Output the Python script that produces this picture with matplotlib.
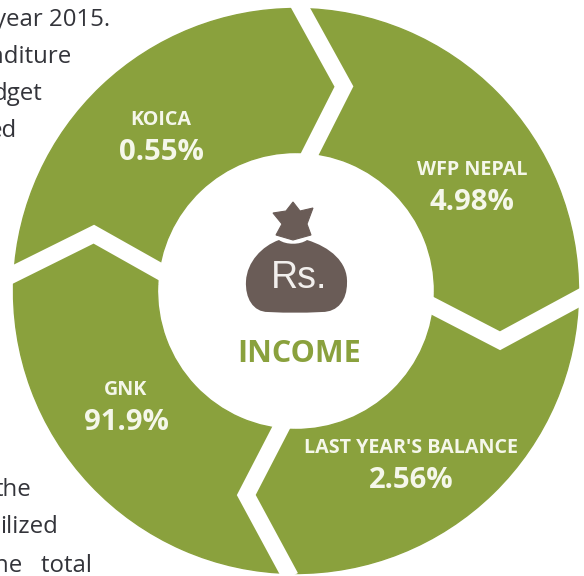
import numpy as np
from matplotlib import pyplot as plt
from matplotlib.path import Path
from matplotlib.patches import PathPatch

plt.rcParams['font.family'] = ['Open Sans', 'DejaVu Sans']

W, H = 584, 576
GREEN = "#8aa13d"
BROWN = "#6a5c57"
LABEL = "#f5f7ea"

# slices, clockwise from the left gap. arcs are drawn about equal in the source, not to scale
sources = ["KOICA", "WFP NEPAL", "LAST YEAR'S BALANCE", "GNK"]
shares = ["0.55%", "4.98%", "2.56%", "91.9%"]
sweep_deg = [87.5, 90.5, 90, 92]

# bits of body text cut off by the crop
side_text_top = ["year 2015.", "nditure", "dget", "ed"]
side_text_bottom = ["the", "ilized", "ne   total"]


def py(y):
    return H - y  # picture pixels run downwards


def polar(r, deg):
    return CX + r * np.cos(np.radians(deg)), CY + r * np.sin(np.radians(deg))


CX, CY = 296, py(291)
R_OUT, R_IN = 282.5, 138.5

fig = plt.figure(figsize=(W / 100, H / 100), dpi=100)
ax = fig.add_axes([0, 0, 1, 1])

START = 177.3
ax.pie(sweep_deg, startangle=START, counterclock=False, center=(CX, CY), radius=R_OUT,
       colors=[GREEN] * 4, wedgeprops={"width": R_OUT - R_IN, "linewidth": 1, "edgecolor": GREEN})

ax.set_xlim(0, W)
ax.set_ylim(0, H)
ax.set_aspect("equal")
ax.axis("off")

# white chevrons between the slices
gap_starts = np.cumsum([0] + sweep_deg[:-1])
for start in gap_starts:
    theta = START - start
    xs, ys = zip(polar(R_OUT + 7, theta), polar(210, theta - 13), polar(R_IN - 7, theta - 4.5))
    ax.plot(xs, ys, color="white", lw=12, solid_joinstyle="miter", solid_capstyle="butt", zorder=3)

# slice labels
label_pos = [(161, 120), (472, 170), (411, 448), (126, 390)]
share_pos = [(161, 153), (472, 202), (411, 481), (126, 423)]
for name, share, p, q in zip(sources, shares, label_pos, share_pos):
    ax.text(p[0], py(p[1]), name, color=LABEL, fontsize=14.2, fontweight="bold",
            ha="center", va="center", zorder=5)
    ax.text(q[0], py(q[1]), share, color=LABEL, fontsize=21.2, fontweight="bold",
            ha="center", va="center", zorder=5)

# money bag
crown = [(293, 202), (300, 211), (313, 208), (307, 224), (311, 235), (293, 240),
         (276, 235), (282, 224), (273, 213), (286, 211), (293, 202)]
ax.add_patch(plt.Polygon([(x, py(y)) for x, y in crown], closed=True, color=BROWN, lw=0.8, zorder=4))

M, C = Path.MOVETO, Path.CURVE4
bag_pts = [(279, 240), (286, 245), (300, 245), (307, 240),
           (330, 247), (348, 262), (347, 283),
           (347, 300), (338, 312), (322, 312),
           (300, 313), (290, 313), (268, 312),
           (253, 312), (245, 298), (246, 281),
           (247, 262), (262, 246), (279, 240)]
bag_codes = [M] + [C] * 18
ax.add_patch(PathPatch(Path([(x, py(y)) for x, y in bag_pts], bag_codes), color=BROWN, lw=0, zorder=4))

ax.text(299, py(278), "Rs.", color="#f2efed", fontsize=27, family="Liberation Sans",
        ha="center", va="center", zorder=5)
ax.text(299, py(354), "INCOME", color=GREEN, fontsize=22, fontweight="bold",
        ha="center", va="center", zorder=5)

# text running alongside the ring
ink = "#33343a"
for txt, right, base in zip(side_text_top, [110, 71, 42, 17], [26, 63, 100, 137]):
    ax.text(right, py(base), txt, color=ink, fontsize=17.3, ha="right", va="baseline")
for txt, right, base in zip(side_text_bottom, [31, 58, 92], [496, 533, 572]):
    ax.text(right, py(base), txt, color=ink, fontsize=17.3, ha="right", va="baseline")

fig.savefig("out.png", dpi=100)
